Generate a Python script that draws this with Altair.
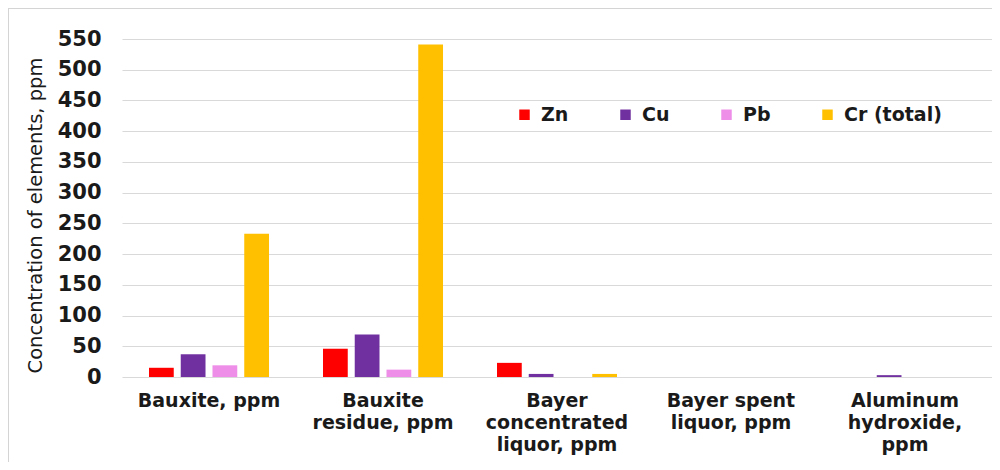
import altair as alt
import pandas as pd

categories = ["Bauxite, ppm", "Bauxite|residue, ppm", "Bayer|concentrated|liquor, ppm",
              "Bayer spent|liquor, ppm", "Aluminum|hydroxide,|ppm"]
elements = ["Zn", "Cu", "Pb", "Cr (total)"]
colors = ["#ff0000", "#7030a0", "#ee8ee8", "#ffc000"]
zn = [15, 46, 23, 0, 0]
cu = [37, 69, 5, 0, 3]
pb = [19, 12, 0, 0, 0]
cr = [233, 541, 5, 0, 0]

rows = []
for el, vals in zip(elements, [zn, cu, pb, cr]):
    for c, v in zip(categories, vals):
        rows.append({"cat": c, "element": el, "value": v})
df = pd.DataFrame(rows)

W, H = 870, 338
FONT = "DejaVu Sans"

bars = alt.Chart(df).mark_bar().encode(
    x=alt.X("cat:N", sort=categories, title=None,
            scale=alt.Scale(paddingInner=0.27, paddingOuter=0.135),
            axis=alt.Axis(labelExpr="split(datum.label, '|')", labelAngle=0,
                          labelFont=FONT, labelFontSize=19, labelFontWeight="bold",
                          labelColor="#1a1a1a", labelLineHeight=22, labelPadding=14,
                          labelLimit=300, ticks=False, domain=False, grid=False)),
    xOffset=alt.XOffset("element:N", sort=elements,
                        scale=alt.Scale(paddingInner=0.22, paddingOuter=0.11)),
    y=alt.Y("value:Q", title="Concentration of elements, ppm",
            scale=alt.Scale(domain=[0, 550], nice=False),
            axis=alt.Axis(values=list(range(0, 551, 50)), ticks=False, domain=False,
                          gridColor="#d9d9d9", gridWidth=1,
                          labelFont=FONT, labelFontSize=21, labelFontWeight="bold",
                          labelColor="#1a1a1a", labelPadding=21,
                          titleFont=FONT, titleFontSize=19.5, titleFontWeight="normal",
                          titleColor="#1a1a1a", titleX=-77, titleY=176,
                          titleAngle=-90, titleAlign="center", titleBaseline="bottom")),
    color=alt.Color("element:N", sort=elements,
                    scale=alt.Scale(domain=elements, range=colors),
                    legend=alt.Legend(title=None, orient="none", legendX=393, legendY=66,
                                      direction="horizontal", columns=4,
                                      symbolType="square", symbolSize=110,
                                      symbolStrokeWidth=0, labelOffset=7,
                                      columnPadding=47,
                                      labelFont=FONT, labelFontSize=19,
                                      labelFontWeight="bold", labelColor="#1a1a1a")),
)

border_df = pd.DataFrame({"k": [0]})
top_edge = alt.Chart(border_df).mark_rule(color="#d4d4d4", strokeWidth=1).encode(
    x=alt.value(-114), x2=alt.value(W), y=alt.value(-30.5))
left_edge = alt.Chart(border_df).mark_rule(color="#d4d4d4", strokeWidth=1).encode(
    x=alt.value(-113.5), y=alt.value(-31), y2=alt.value(H + 85))

chart = alt.layer(bars, top_edge, left_edge).properties(
    width=W, height=H,
    autosize=alt.AutoSizeParams(type="none"),
    padding={"left": 114, "top": 31, "right": 0, "bottom": 85},
).configure_view(stroke=None)

chart.save("out.html", embed_options={"renderer": "svg", "actions": False})
